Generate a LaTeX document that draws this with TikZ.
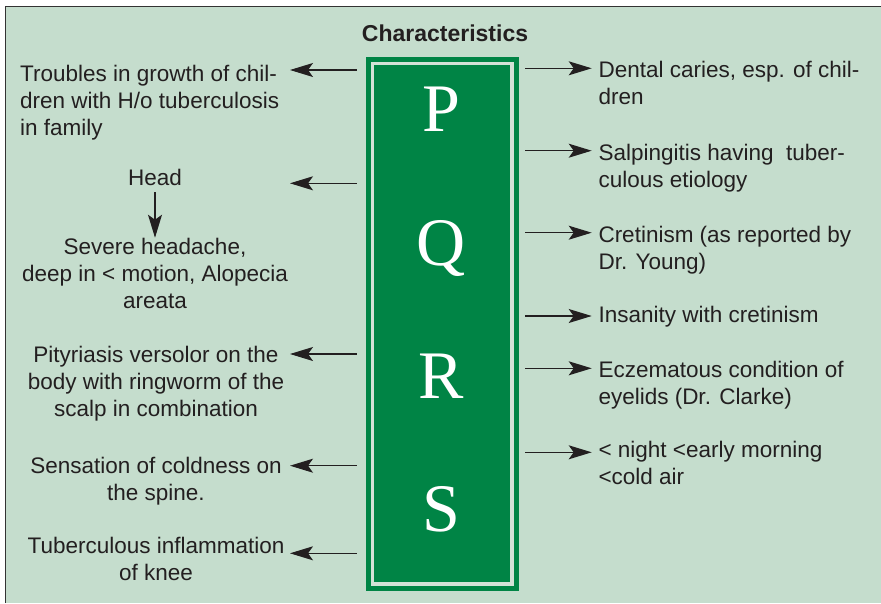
\documentclass[tikz,border=0pt]{standalone}
\usepackage{fontspec}
\setmainfont{Liberation Sans}
\newfontfamily\letterfont{Liberation Serif}
\usepackage{xcolor}
\definecolor{panel}{HTML}{C5DDCD}
\definecolor{pqrsgreen}{HTML}{008445}
\definecolor{rimline}{HTML}{D3E2D7}
\definecolor{ink}{HTML}{231F20}
\usepackage{tikz}
\usetikzlibrary{arrows.meta, positioning, calc}

\begin{document}
\begin{tikzpicture}[x=1pt, y=-1pt,
    txt/.style={inner sep=0pt, text=ink, font=\fontsize{22.5}{27}\selectfont},
    letter/.style={inner sep=0pt, anchor=base, text=white,
                   font=\letterfont\fontsize{68}{68}\selectfont},
    arr/.style={-{Stealth[length=23pt, width=14pt, inset=5pt]}, line width=1.1pt, color=ink}]
  \useasboundingbox (0,0) rectangle (881,603);
  \fill[white] (0,0) rectangle (881,603);
  \fill[panel] (5.5,6.5) rectangle (881,603);
  \draw[line width=1.5pt, color=black!80] (5.5,603) -- (5.5,6.5) -- (881,6.5);

  \node[txt, anchor=base, font=\bfseries\fontsize{23}{27}\selectfont] (title)
        at (445,41) {Characteristics};

  % the green column
  \node[fill=pqrsgreen, inner sep=0pt, minimum width=153pt, minimum height=534pt,
        anchor=north west] (pqrs) at (366,57) {};
  \draw[rimline, line width=3.5pt]
        ([shift={(6.3,6.7)}]pqrs.north west) rectangle ([shift={(-7.5,-7.5)}]pqrs.south east);
  \foreach \ch/\yb in {P/131.7, Q/265, R/398.5, S/531.7}
    \node[letter] (let\ch) at (441,\yb) {\ch};

  % left column
  \node[txt, align=left, anchor=north west] (growth) at (20,65)
        {Troubles in growth of chil-\\dren with H/o tuberculosis\\in family};
  \node[txt, anchor=base] (head) at (155,185.7) {Head};
  \node[txt, align=center, below=51.6pt of head] (headache)
        {Severe headache,\\deep in < motion, Alopecia\\areata};
  \node[txt, align=center, anchor=north] (pityriasis) at (156,346.3)
        {Pityriasis versolor on the\\body with ringworm of the\\scalp in combination};
  \node[txt, align=center, anchor=north] (coldness) at (156,457.3)
        {Sensation of coldness on\\the spine.};
  \node[txt, align=center, anchor=north] (knee) at (156,536.7)
        {Tuberculous inflammation\\of knee};

  % right column
  \node[txt, align=left, anchor=north west] (caries) at (598.3,61.3)
        {Dental caries, esp. of chil-\\dren};
  \node[txt, align=left, anchor=north west] (salping) at (598.3,144)
        {Salpingitis having~ tuber-\\culous etiology};
  \node[txt, align=left, anchor=north west] (cretin) at (598.3,225.7)
        {Cretinism (as reported by\\Dr. Young)};
  \node[txt, align=left, anchor=north west] (insanity) at (598.3,305.7)
        {Insanity with cretinism};
  \node[txt, align=left, anchor=north west] (eczema) at (598.3,360.7)
        {Eczematous condition of\\eyelids (Dr. Clarke)};
  \node[txt, align=left, anchor=north west] (night) at (598.3,441.3)
        {< night <early morning\\<cold air};

  % arrows
  \draw[arr] ([yshift=-6pt]head.south) -- (headache.north);
  \foreach \n/\y in {growth/70, head/183.3, pityriasis/354, coldness/465.7, knee/553.3} {
    \coordinate (tip-\n) at (290,\y);
    \draw[arr] ($(pqrs.west |- tip-\n)+(-9.3,0)$) -- (tip-\n);
  }
  \foreach \n/\y in {caries/68.3, salping/150.7, cretin/232.7, insanity/316, eczema/368.3, night/452.3} {
    \coordinate (tip-\n) at (591.7,\y);
    \draw[arr] ($(pqrs.east |- tip-\n)+(6,0)$) -- (tip-\n);
  }
\end{tikzpicture}
\end{document}
